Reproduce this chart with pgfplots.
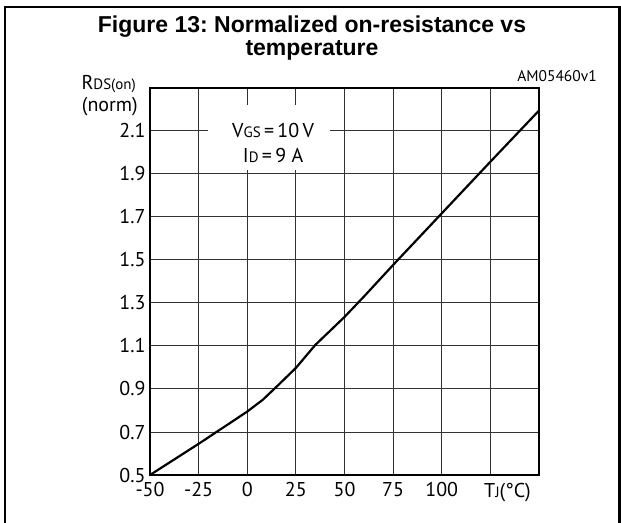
\documentclass[border=0pt]{standalone}
\usepackage{fontspec}
\setmainfont{PT Sans}
\newfontfamily\arialfont{Liberation Sans}
\usepackage{pgfplots}
\pgfplotsset{compat=1.18}
\frenchspacing
\pgfplotstableread{
x y
-50 0.5
-25 0.645
-15 0.705
0 0.795
8 0.85
15 0.91
25 0.998
35 1.105
50 1.235
60 1.33
75 1.477
100 1.717
125 1.957
150 2.195
}\curvedata
\begin{document}
\begin{tikzpicture}[x=1pt,y=1pt]
\useasboundingbox (0,0) rectangle (621,522);
\draw[line width=2.5pt] (5,-2) -- (5,515) -- (619.5,515) -- (619.5,-2);
\node[font=\arialfont\bfseries\fontsize{23}{28}\selectfont, anchor=base] at (312,489) {Figure 13: Normalized on-resistance vs};
\node[font=\arialfont\bfseries\fontsize{23}{28}\selectfont, anchor=base] at (312,466) {temperature};
\node[font=\fontsize{15.5}{17}\selectfont, anchor=base east, inner sep=0] at (597,440) {AM05460v1};
\node[font=\fontsize{20}{22}\selectfont, anchor=base east, inner sep=0] at (136,432) {R{\fontsize{15}{16}\selectfont DS(on)}};
\node[font=\fontsize{20}{22}\selectfont, anchor=base east, inner sep=0] at (138,410) {(norm)};
\node[font=\fontsize{20}{22}\selectfont, anchor=base west, inner sep=0] at (484,24) {T{\fontsize{15}{16}\selectfont J}(°C)};
\begin{axis}[
  at={(150pt,47pt)}, anchor=south west,
  width=389pt, height=387pt, scale only axis,
  xmin=-50, xmax=150, ymin=0.5, ymax=2.3,
  xtick={-50,-25,0,25,50,75,100,125,150},
  xticklabels={-50,-25,0,25,50,75,100,,},
  ytick={0.5,0.7,0.9,1.1,1.3,1.5,1.7,1.9,2.1,2.3},
  yticklabels={0.5,0.7,0.9,1.1,1.3,1.5,1.7,1.9,2.1,},
  major tick length=0pt,
  grid=major,
  major grid style={black!80, line width=1pt},
  axis line style={line width=2.5pt},
  tick label style={font=\fontsize{20}{22}\selectfont},
  xticklabel style={yshift=-4pt},
  yticklabel style={xshift=-1pt},
]
\fill[white] (axis cs:-20,1.92) rectangle (axis cs:42.5,2.22);
\node[font=\fontsize{20}{22}\selectfont, anchor=base] at (axis cs:13.3,2.07) {V{\fontsize{15}{16}\selectfont GS}\,=\,10\,V};
\node[font=\fontsize{20}{22}\selectfont, anchor=base] at (axis cs:13.3,1.955) {I{\fontsize{15}{16}\selectfont D}\,=\,9 A};
\addplot[black, line width=2.2pt, no marks] table {\curvedata};
\end{axis}
\end{tikzpicture}
\end{document}
